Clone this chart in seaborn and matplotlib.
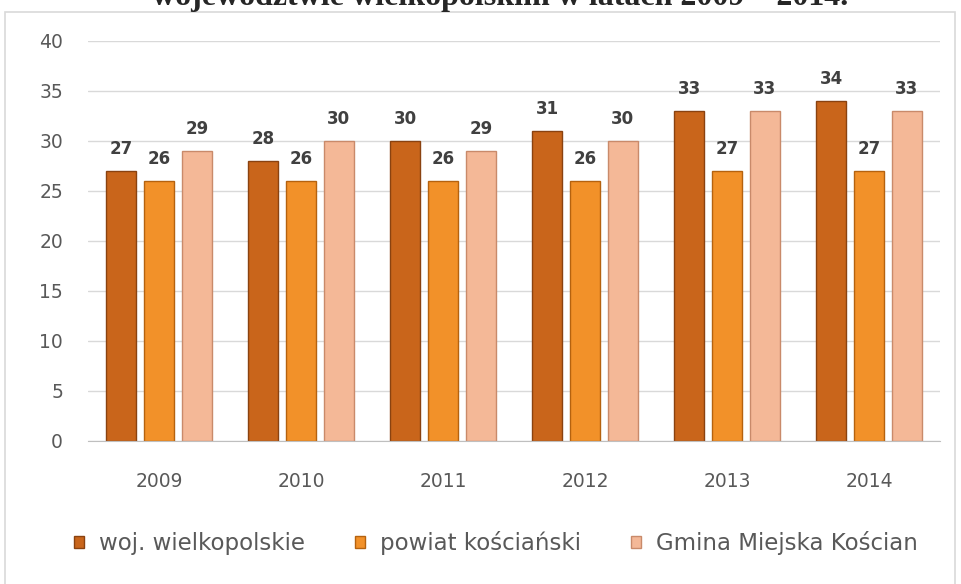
import numpy as np
import pandas as pd
import matplotlib
matplotlib.use("Agg")
import matplotlib.pyplot as plt
import seaborn as sns
from matplotlib.patches import Rectangle

# -------------------------------------------------------------------------
# data
# -------------------------------------------------------------------------
YEARS = ["2009", "2010", "2011", "2012", "2013", "2014"]
SERIES = ["woj. wielkopolskie", "powiat kościański", "Gmina Miejska Kościan"]
WOJ = [27, 28, 30, 31, 33, 34]
POWIAT = [26, 26, 26, 26, 27, 27]
GMINA = [29, 30, 29, 30, 33, 33]
YTICKS = [0, 5, 10, 15, 20, 25, 30, 35, 40]
TITLE = "województwie wielkopolskim w latach 2009 – 2014."

COLORS = ["#C9651B", "#F29129", "#F4B897"]
EDGES = ["#8A4210", "#B5620F", "#C98A6A"]

df = pd.DataFrame({
    "rok": YEARS * 3,
    "seria": sum([[s] * len(YEARS) for s in SERIES], []),
    "wartosc": WOJ + POWIAT + GMINA,
})

sns.set_style("white")
plt.rcParams["font.family"] = ["DejaVu Sans"]

fig = plt.figure(figsize=(9.61, 5.84), dpi=100)
ax = fig.add_axes([88 / 961, 1 - 441 / 584, 852 / 961, 400 / 584])

sns.barplot(data=df, x="rok", y="wartosc", hue="seria", order=YEARS,
            hue_order=SERIES, palette=COLORS, width=0.8, gap=0.2,
            saturation=1, ax=ax, legend=False)

# obramowanie słupków w ciemniejszym odcieniu + etykiety wartości
for cont, ec in zip(ax.containers, EDGES):
    for p in cont:
        p.set_edgecolor(ec)
        p.set_linewidth(1.0)
    ax.bar_label(cont, padding=9, fontsize=12, fontweight="bold",
                 color="#404040")

ax.set_ylim(0, 40)
ax.set_xlim(-0.5, 5.5)
ax.set_yticks(YTICKS)
ax.yaxis.grid(True, color="#D9D9D9", lw=1)
ax.set_axisbelow(True)
ax.set_xlabel("")
ax.set_ylabel("")
for s in ["top", "right", "left"]:
    ax.spines[s].set_visible(False)
ax.spines["bottom"].set_color("#BFBFBF")
ax.tick_params(axis="both", length=0, labelsize=13.5, colors="#595959")
ax.tick_params(axis="y", pad=18)
ax.tick_params(axis="x", pad=22)

# legenda
handles = [Rectangle((0, 0), 1, 1, facecolor=c, edgecolor=e)
           for c, e in zip(COLORS, EDGES)]
fig.legend(handles, SERIES, loc="center", bbox_to_anchor=(496 / 961, 1 - 543 / 584),
           ncol=3, frameon=False, fontsize=16.5, handlelength=0.42,
           handleheight=0.42, columnspacing=2.2, handletextpad=0.65,
           labelcolor="#595959", borderpad=0, borderaxespad=0)

# ramka wykresu
fig.patches.append(Rectangle((5 / 961, -0.01), 950 / 961, 1 - 12 / 584 + 0.01,
                             transform=fig.transFigure, fill=False,
                             edgecolor="#D9D9D9", lw=1.2))

# tytuł (ucięty u góry jak w oryginale)
fig.text(500 / 961, 1 - 5 / 584, TITLE, ha="center", va="baseline",
         fontsize=23, fontweight="bold", family="Liberation Serif")

fig.savefig("out.png", dpi=100)
